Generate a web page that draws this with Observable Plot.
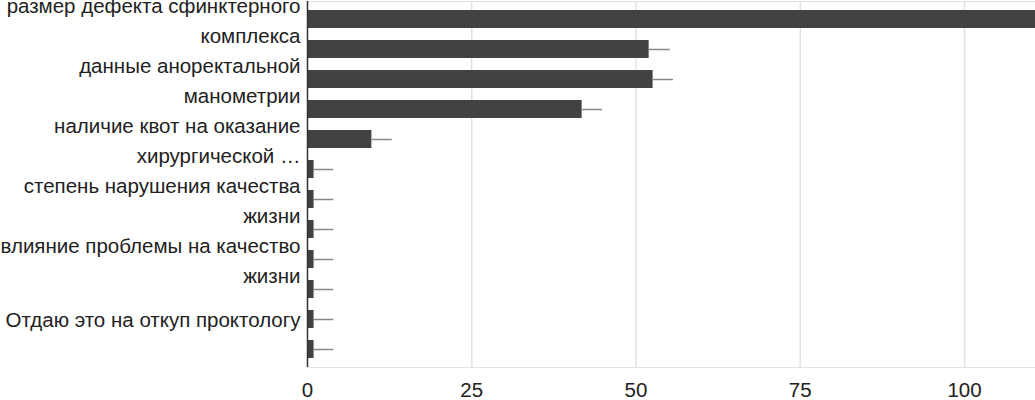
<!DOCTYPE html>
<html>
<head>
<meta charset="utf-8">
<script src="https://cdn.jsdelivr.net/npm/d3@7"></script>
<script src="https://cdn.jsdelivr.net/npm/@observablehq/plot@0.6"></script>
<style>
  html, body { margin: 0; padding: 0; background: #fff; }
  #chart { width: 1035px; height: 400px; overflow: hidden; }
</style>
</head>
<body>
<div id="chart"></div>
<script>
// Categories (only every other one carries a visible label in the original)
const categoryLabels = [
  "размер дефекта сфинктерного\nкомплекса",
  "",
  "данные аноректальной\nманометрии",
  "",
  "наличие квот на оказание\nхирургической …",
  "",
  "степень нарушения качества\nжизни",
  "",
  "влияние проблемы на качество\nжизни",
  "",
  "Отдаю это на откуп проктологу",
  ""
];
const values = [115, 52, 52.6, 41.8, 9.8, 1, 1, 1, 1, 1, 1, 1];
const errors = [3, 3.2, 3.1, 3.1, 3.1, 3, 3, 3, 3, 3, 3, 3];
const xTicks = [0, 25, 50, 75, 100];

const data = values.map((v, i) => ({i, label: categoryLabels[i], value: v, err: errors[i]}));
const idx = data.map(d => d.i);
const twoLine = data.filter(d => d.label.includes("\n"));
const oneLine = data.filter(d => d.label && !d.label.includes("\n"));

const FS = 20.5;
const chart = Plot.plot({
  width: 1035,
  height: 400,
  marginLeft: 307,
  marginRight: 0,
  marginTop: 1,
  marginBottom: 33,
  style: {fontFamily: "'Liberation Sans', Arial, sans-serif", fontSize: FS + "px", color: "#222", background: "#fff"},
  x: {domain: [0, 110.8], ticks: xTicks},
  y: {domain: idx, paddingInner: 0.4, paddingOuter: 0.2, axis: null},
  marks: [
    Plot.frame({stroke: "#e2e2e2"}),
    Plot.gridX(xTicks.filter(t => t > 0), {stroke: "#e2e2e2", strokeOpacity: 1, strokeWidth: 1.5}),
    Plot.barX(data, {x: "value", y: "i", fill: "#424242", clip: true}),
    Plot.ruleY(data, {x1: "value", x2: d => d.value + d.err, y: "i", stroke: "#888", strokeWidth: 1.5, clip: true}),
    Plot.ruleX([0], {stroke: "#333", strokeWidth: 1.5}),
    Plot.text(twoLine, {x: 0, y: "i", text: "label", textAnchor: "end", dx: -7, dy: -1, lineHeight: 30 / FS, fill: "#222", fontSize: FS}),
    Plot.text(oneLine, {x: 0, y: "i", text: "label", textAnchor: "end", dx: -7, dy: 1, fill: "#222", fontSize: FS}),
    Plot.axisX({ticks: xTicks, tickSize: 0, tickPadding: 15, fontSize: FS, fill: "#222", label: null})
  ]
});
document.getElementById("chart").append(chart);
</script>
</body>
</html>
